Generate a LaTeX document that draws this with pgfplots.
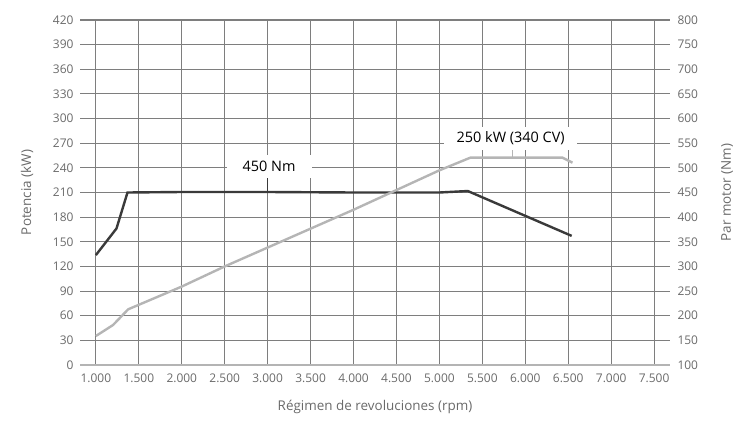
\documentclass[border=0pt]{standalone}
\usepackage{fontspec}
\setmainfont{Open Sans}
\usepackage{pgfplots}
\usepackage{pgfplotstable}
\pgfplotsset{compat=1.18}
\definecolor{gridc}{HTML}{7E7E7E}
\definecolor{basec}{HTML}{B4B4B4}
\definecolor{textc}{HTML}{6A6A6A}
\definecolor{torquec}{HTML}{3A3A3A}
\definecolor{powerc}{HTML}{B5B5B5}

% potencia (kW)
\pgfplotstableread{
rpm kw
1000 35.3
1200 48.7
1376 67.8
2000 95.5
2500 120
3000 143
3500 166
4000 189
4500 213
5000 237
5360 252.4
6433 252.4
6550 246.3
}\potencia

% par motor (Nm)
\pgfplotstableread{
rpm nm
1000 323
1240 377
1368 450
2000 451
3000 451
4000 450
5000 450
5330 453
6540 362
}\parmotor

\begin{document}
\begin{tikzpicture}
\useasboundingbox (-80bp,-60bp) rectangle (656bp,365bp);
\begin{axis}[
  scale only axis, width=590bp, height=345bp,
  xmin=815, xmax=7685, ymin=0, ymax=420,
  xtick={1000,1500,...,7500}, ytick={0,30,...,420},
  axis lines=left, axis line style={-},
  x axis line style={basec, line width=2bp},
  y axis line style={draw=none},
  major tick length=0pt,
  grid=major, major grid style={gridc, line width=1.1bp},
  /pgf/number format/.cd, 1000 sep={.}, assume math mode=true, /pgfplots/.cd,
  ticklabel style={textc, font=\fontsize{12}{12}\selectfont},
  xticklabel style={yshift=-5bp},
  yticklabel style={xshift=-3bp},
  xlabel={Régimen de revoluciones (rpm)},
  ylabel={Potencia (kW)},
  label style={textc, font=\fontsize{13.5}{13.5}\selectfont},
  xlabel style={at={(axis description cs:0.5,0)}, anchor=center, yshift=-42bp},
  ylabel style={at={(axis description cs:0,0.5)}, anchor=center, yshift=53bp},
  clip=false,
]
\addplot[torquec, line width=2.4bp] table[x=rpm, y expr={(\thisrow{nm}-100)*0.6}] {\parmotor};
\addplot[powerc, line width=2.4bp] table[x=rpm, y=kw] {\potencia};
\draw[torquec, line width=1.2bp] (axis cs:3000,228) -- (axis cs:3000,211);
\node[fill=white, text=black, minimum width=85bp, minimum height=23bp, inner sep=0pt,
  font=\fontsize{14.5}{14.5}\selectfont] at (axis cs:3017,241.6) {450 Nm};
\draw[powerc, line width=1.2bp] (axis cs:5849,264) -- (axis cs:5849,252.4);
\node[fill=white, text=black, minimum width=133bp, minimum height=23bp, inner sep=0pt,
  font=\fontsize{14.5}{14.5}\selectfont] at (axis cs:5830,275.7) {250 kW (340 CV)};
\end{axis}
\begin{axis}[
  scale only axis, width=590bp, height=345bp,
  xmin=815, xmax=7685, ymin=100, ymax=800,
  ytick={100,150,...,800},
  axis x line=none, axis y line*=right,
  y axis line style={draw=none},
  major tick length=0pt,
  /pgf/number format/.cd, assume math mode=true, /pgfplots/.cd,
  ticklabel style={textc, font=\fontsize{12}{12}\selectfont},
  yticklabel style={xshift=4bp},
  ylabel={Par motor (Nm)},
  label style={textc, font=\fontsize{13.5}{13.5}\selectfont},
  ylabel style={at={(axis description cs:1,0.5)}, anchor=center, rotate=0, yshift=-57bp},
]
\end{axis}
\end{tikzpicture}
\end{document}
